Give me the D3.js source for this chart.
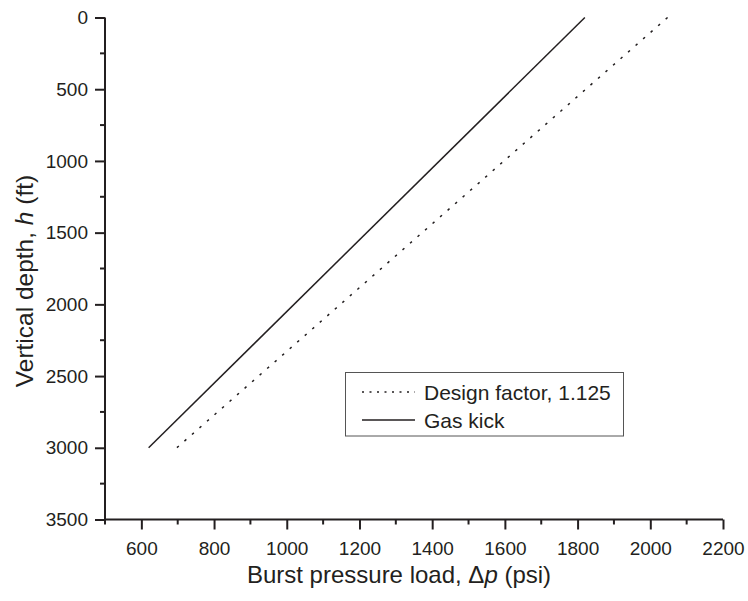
<!DOCTYPE html>
<html><head><meta charset="utf-8">
<script src="https://cdn.jsdelivr.net/npm/d3@7"></script>
<style>body{margin:0;background:#fff;} text{font-family:"Liberation Sans",Arial,sans-serif;fill:#231f20;}</style>
</head><body>
<svg id="c" width="748" height="601"></svg>
<script>
const depths = [0, 3000];
const gasKick = [1820, 620];
const designFactor = [2047.5, 697.5];
const xTicks = [600, 800, 1000, 1200, 1400, 1600, 1800, 2000, 2200];
const yTicks = [0, 500, 1000, 1500, 2000, 2500, 3000, 3500];
const seriesNames = ["Design factor, 1.125", "Gas kick"];

const svg = d3.select("#c");
const col = "#231f20";
const x = d3.scaleLinear().domain([500, 2200]).range([105, 723]);
const y = d3.scaleLinear().domain([0, 3500]).range([17.5, 519.5]);

const xMinor = d3.range(500, 2201, 100).filter(v => v % 200 !== 0);
const yMinor = d3.range(250, 3500, 500);

const gx = svg.append("g").attr("transform", `translate(0,${y(3500)})`);
gx.call(d3.axisBottom(x).tickValues(xTicks).tickSize(10).tickPadding(12).tickFormat(d3.format("d")));
gx.selectAll("line.minor").data(xMinor).enter().append("line")
  .attr("x1", d => x(d)).attr("x2", d => x(d)).attr("y1", 0).attr("y2", 5);
gx.selectAll("line").attr("stroke", col).attr("stroke-width", 2);
gx.select(".domain").attr("stroke", col).attr("stroke-width", 2).attr("d", `M${x(500)},0H${x(2200)}`);
gx.selectAll("text").attr("font-size", 19).style("font-family", "Liberation Sans, Arial, sans-serif").attr("fill", col);

const gy = svg.append("g").attr("transform", `translate(${x(500)},0)`);
gy.call(d3.axisLeft(y).tickValues(yTicks).tickSize(10).tickPadding(7).tickFormat(d3.format("d")));
gy.selectAll("line.minor").data(yMinor).enter().append("line")
  .attr("x1", 0).attr("x2", -5).attr("y1", d => y(d)).attr("y2", d => y(d));
gy.selectAll("line").attr("stroke", col).attr("stroke-width", 2);
gy.select(".domain").attr("stroke", col).attr("stroke-width", 2).attr("d", `M0,${y(0)}V${y(3500)}`);
gy.selectAll("text").attr("font-size", 19).style("font-family", "Liberation Sans, Arial, sans-serif").attr("fill", col);

const line = d3.line().x(d => x(d[0])).y(d => y(d[1]));
svg.append("path").datum(gasKick.map((v, i) => [v, depths[i]]))
  .attr("d", line).attr("fill", "none").attr("stroke", col).attr("stroke-width", 1.5);
svg.append("path").datum(designFactor.map((v, i) => [v, depths[i]]))
  .attr("d", line).attr("fill", "none").attr("stroke", col).attr("stroke-width", 1.5)
  .attr("stroke-dasharray", "2.5,7.5");

const lg = svg.append("g");
lg.append("rect").attr("x", 345.5).attr("y", 372.5).attr("width", 278).attr("height", 63.5)
  .attr("fill", "#fff").attr("stroke", "#555").attr("stroke-width", 1);
const lgY = [392, 420];
const dashes = ["2,5.5", null];
seriesNames.forEach((n, i) => {
  const l = lg.append("line").attr("x1", 362).attr("x2", 415).attr("y1", lgY[i]).attr("y2", lgY[i])
    .attr("stroke", col).attr("stroke-width", 1.3);
  if (dashes[i]) l.attr("stroke-dasharray", dashes[i]);
  lg.append("text").attr("x", 424).attr("y", lgY[i] + 7.5).attr("font-size", 21).text(n);
});

const xt = svg.append("text").attr("x", 399).attr("y", 583).attr("text-anchor", "middle").attr("font-size", 24);
xt.append("tspan").text("Burst pressure load, Δ");
xt.append("tspan").attr("font-style", "italic").text("p");
xt.append("tspan").text(" (psi)");

const yt = svg.append("text").attr("transform", `translate(33,281) rotate(-90)`).attr("text-anchor", "middle").attr("font-size", 24.5);
yt.append("tspan").text("Vertical depth, ");
yt.append("tspan").attr("font-style", "italic").text("h");
yt.append("tspan").text(" (ft)");
</script>
</body></html>
